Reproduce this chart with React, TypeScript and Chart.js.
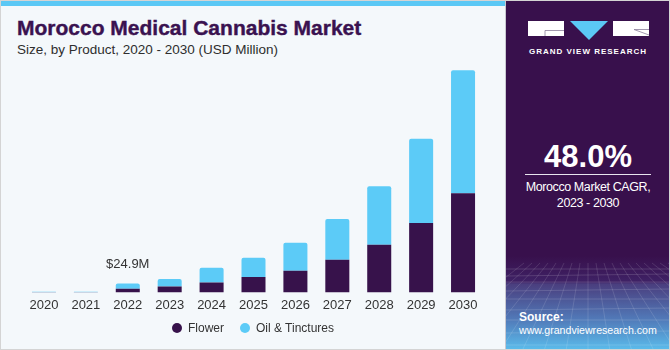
import React, { useEffect, useRef } from "react";
import { Chart, registerables } from "chart.js";

Chart.register(...registerables);

const years = ["2020", "2021", "2022", "2023", "2024", "2025", "2026", "2027", "2028", "2029", "2030"];
const flower = [0.8, 0.9, 10.5, 16.6, 27.7, 43.2, 61, 91.3, 133, 194, 277];
const oil = [1.1, 1.2, 14.4, 21, 41.5, 53.7, 77.5, 113.5, 163, 235, 343];
const seriesNames = ["Flower", "Oil & Tinctures"];
const seriesColors = ["#37124b", "#5ccbf7"];
const calloutYear = "2022";
const calloutLabel = "$24.9M";
const yMax = 640;

const FONT = "'Liberation Sans', Arial, Helvetica, sans-serif";

const calloutPlugin = {
  id: "callout",
  afterDatasetsDraw(chart: any) {
    const idx = years.indexOf(calloutYear);
    const meta = chart.getDatasetMeta(1);
    const bar = meta.data[idx];
    if (!bar) return;
    const ctx = chart.ctx;
    ctx.save();
    ctx.font = `13px ${FONT}`;
    ctx.fillStyle = "#333333";
    ctx.textAlign = "center";
    ctx.textBaseline = "alphabetic";
    ctx.fillText(calloutLabel, bar.x, bar.y - 15.5);
    ctx.restore();
  },
};

function ChartCanvas() {
  const ref = useRef<HTMLCanvasElement | null>(null);
  useEffect(() => {
    if (!ref.current) return;
    const chart = new Chart(ref.current, {
      type: "bar",
      data: {
        labels: years,
        datasets: [
          {
            label: seriesNames[0],
            data: flower,
            backgroundColor: seriesColors[0],
            borderWidth: 0,
            barPercentage: 0.573,
            categoryPercentage: 1,
          },
          {
            label: seriesNames[1],
            data: oil,
            backgroundColor: seriesColors[1],
            borderWidth: 0,
            borderRadius: { topLeft: 2, topRight: 2, bottomLeft: 0, bottomRight: 0 },
            borderSkipped: false,
            barPercentage: 0.573,
            categoryPercentage: 1,
          },
        ],
      },
      options: {
        responsive: false,
        animation: false,
        layout: { padding: { left: 22, right: 22, top: 7, bottom: 32.9 } },
        plugins: {
          legend: { display: false },
          tooltip: { enabled: false },
        },
        scales: {
          x: {
            stacked: true,
            grid: { display: false, drawTicks: false },
            border: { display: false },
            ticks: { color: "#333333", font: { family: FONT, size: 13 }, padding: 5 },
          },
          y: {
            stacked: true,
            display: false,
            min: 0,
            max: yMax,
          },
        },
      },
      plugins: [calloutPlugin],
    });
    return () => chart.destroy();
  }, []);
  return <canvas ref={ref} width={505} height={295} style={{ width: 505, height: 295, display: "block" }} />;
}

function Legend() {
  const lefts = [171, 239];
  return (
    <>
      {seriesNames.map((name, i) => (
        <div
          key={name}
          style={{
            position: "absolute",
            left: lefts[i],
            top: 320,
            height: 14,
            display: "flex",
            alignItems: "center",
            whiteSpace: "nowrap",
            fontSize: 12,
            color: "#333333",
          }}
        >
          <span
            style={{ width: 10, height: 10, borderRadius: 5, background: seriesColors[i], display: "inline-block", marginRight: 6 }}
          />
          <span>{name}</span>
        </div>
      ))}
    </>
  );
}

function Mesh() {
  const lines: JSX.Element[] = [];
  const hy = [268, 274, 281, 289, 298, 308, 319, 331, 344];
  hy.forEach((y, i) =>
    lines.push(<line key={"h" + i} x1={0} y1={y - 250 + (i % 2)} x2={164} y2={y - 250 - (i % 2)} stroke="#ffffff" strokeOpacity={0.18} strokeWidth={0.8} />)
  );
  for (let i = -8; i <= 16; i++) {
    const xTop = 82 + i * 8;
    const xBot = 82 + i * 22;
    lines.push(<line key={"v" + i} x1={xTop} y1={12} x2={xBot} y2={100} stroke="#ffffff" strokeOpacity={0.16} strokeWidth={0.8} />);
  }
  return (
    <svg width={164} height={100} style={{ position: "absolute", left: 0, top: 250 }}>
      {lines}
    </svg>
  );
}

export default function App() {
  return (
    <div
      style={{
        position: "absolute",
        left: 0,
        top: 0,
        width: 670,
        height: 350,
        background: "#f4f8fb",
        overflow: "hidden",
        fontFamily: FONT,
        boxSizing: "border-box",
        border: "1px solid #d4d4d4",
      }}
    >
      <div style={{ position: "absolute", left: 0, top: 0, width: 505, height: 5, background: "#5bc8f5" }} />
      <div
        style={{
          position: "absolute",
          left: 16,
          top: 15,
          fontSize: 21,
          fontWeight: 700,
          color: "#3a1250",
          WebkitTextStroke: "0.4px #3a1250",
          whiteSpace: "nowrap",
          lineHeight: "24px",
        }}
      >
        Morocco Medical Cannabis Market
      </div>
      <div
        style={{ position: "absolute", left: 16, top: 40, fontSize: 13.5, color: "#2e2e2e", whiteSpace: "nowrap", lineHeight: "17px" }}
      >
        Size, by Product, 2020 - 2030 (USD Million)
      </div>
      <div style={{ position: "absolute", left: 0, top: 55 }}>
        <ChartCanvas />
      </div>
      <Legend />
      <div style={{ position: "absolute", left: 504, top: 0, width: 1, height: 350, background: "#c8c8d0" }} />
      <div
        style={{
          position: "absolute",
          left: 505,
          top: 0,
          width: 164,
          height: 350,
          background:
            "linear-gradient(to bottom, #38104c 0px, #38104c 255px, #3f2266 281px, #4a3e7e 283px, #5179b8 318px, #5bbfee 350px)",
          overflow: "hidden",
        }}
      >
        <Mesh />
        <svg width={164} height={60} style={{ position: "absolute", left: 0, top: 0 }}>
          <rect x={22} y={20} width={36} height={15} fill="#ffffff" />
          <line x1={39} y1={29.5} x2={58} y2={29.5} stroke="#8a7d99" strokeWidth={0.8} />
          <line x1={39} y1={29.5} x2={39} y2={35} stroke="#8a7d99" strokeWidth={0.8} />
          <polygon points="64,20 102,20 83,39" fill="#5bc8f5" />
          <rect x={107} y={20} width={36} height={15} fill="#ffffff" />
          <line x1={128} y1={28.5} x2={143} y2={34} stroke="#8a7d99" strokeWidth={0.8} />
          <line x1={128} y1={28.5} x2={143} y2={28.5} stroke="#8a7d99" strokeWidth={0.8} />
        </svg>
        <div
          style={{
            position: "absolute",
            left: 0,
            width: 164,
            top: 46,
            textAlign: "center",
            color: "#ffffff",
            fontSize: 8,
            fontWeight: 700,
            letterSpacing: 1,
            whiteSpace: "nowrap",
          }}
        >
          GRAND VIEW RESEARCH
        </div>
        <div
          style={{
            position: "absolute",
            left: 0,
            width: 164,
            top: 139,
            textAlign: "center",
            color: "#ffffff",
            fontSize: 31,
            fontWeight: 700,
            lineHeight: "34px",
          }}
        >
          48.0%
        </div>
        <div style={{ position: "absolute", left: 19, top: 173, width: 126, height: 1, background: "#e8e4ee" }} />
        <div
          style={{
            position: "absolute",
            left: 0,
            width: 164,
            top: 178,
            textAlign: "center",
            color: "#ffffff",
            fontSize: 12.5,
            lineHeight: "16px",
            letterSpacing: -0.4,
          }}
        >
          Morocco Market CAGR,
          <br />
          2023 - 2030
        </div>
        <div style={{ position: "absolute", left: 13, top: 309, color: "#ffffff", fontSize: 12, fontWeight: 700, lineHeight: "14px" }}>
          Source:
        </div>
        <div style={{ position: "absolute", left: 13, top: 322, color: "#ffffff", fontSize: 10.6, lineHeight: "14px", whiteSpace: "nowrap" }}>
          www.grandviewresearch.com
        </div>
      </div>
    </div>
  );
}
